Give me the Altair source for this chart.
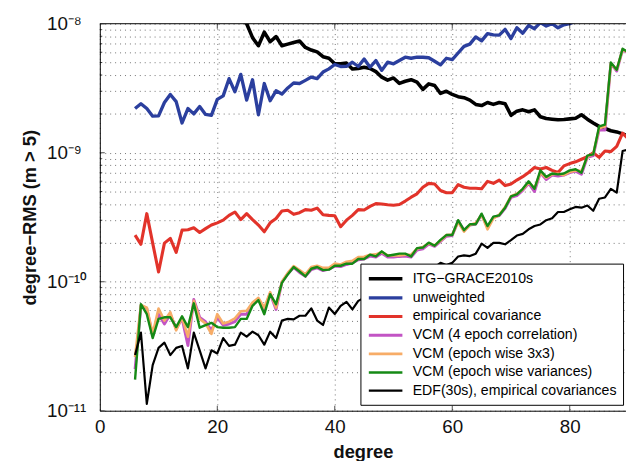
import altair as alt
import pandas as pd

degrees = list(range(6, 91))

itg = [6.0e-8, 5.2e-8, 4.6e-8, 4.1e-8, 3.7e-8, 3.3e-8, 3.0e-8, 2.7e-8, 2.5e-8, 2.3e-8,
       2.1e-8, 1.95e-8, 1.8e-8, 1.65e-8, 1.52e-8, 1.4e-8, 1.3e-8, 1.2e-8, 1.1e-8,
       1.0e-8, 7.8e-9, 6.75e-9, 8.6e-9, 7.25e-9, 7.95e-9, 6.75e-9, 6.95e-9, 7.15e-9, 7.35e-9,
       6.55e-9, 6.25e-9, 6.05e-9, 5.55e-9, 5.4e-9, 4.9e-9, 4.9e-9, 4.95e-9, 4.45e-9, 4.5e-9, 4.6e-9,
       4.5e-9, 4.25e-9, 3.85e-9, 3.65e-9, 3.8e-9, 3.45e-9, 3.58e-9, 3.68e-9, 3.52e-9, 3.1e-9,
       3.42e-9, 3.32e-9, 2.88e-9, 3.0e-9, 2.83e-9, 2.72e-9, 2.67e-9, 2.56e-9, 2.37e-9, 2.32e-9,
       2.45e-9, 2.37e-9,
       2.45e-9, 2.4e-9, 1.95e-9, 2.1e-9, 2.15e-9, 2.08e-9, 2.15e-9, 1.9e-9, 1.84e-9, 1.82e-9,
       1.8e-9, 1.81e-9, 1.83e-9, 1.85e-9, 1.97e-9, 1.82e-9, 1.7e-9, 1.6e-9, 1.54e-9, 1.48e-9,
       1.45e-9, 1.4e-9, 1.35e-9]

unweighted = [2.2e-9, 2.4e-9, 2.2e-9, 1.92e-9, 1.93e-9, 2.45e-9, 2.83e-9, 2.49e-9, 1.7e-9, 2.2e-9,
              2.0e-9, 2.28e-9, 1.98e-9, 1.95e-9, 2.59e-9, 2.76e-9, 3.75e-9,
              2.97e-9, 4.05e-9, 2.56e-9, 3.68e-9, 1.97e-9, 3.44e-9, 2.53e-9, 3.02e-9, 2.85e-9, 3.18e-9,
              3.47e-9, 3.44e-9, 3.64e-9, 3.86e-9, 3.75e-9, 4.22e-9, 4.47e-9, 4.83e-9, 4.66e-9, 4.68e-9,
              5.03e-9, 4.66e-9, 5.33e-9,
              4.6e-9, 5.18e-9, 4.35e-9, 5.03e-9, 4.89e-9, 5.18e-9, 5.5e-9, 5.4e-9, 5.5e-9, 5.5e-9,
              5.45e-9, 5.12e-9, 4.8e-9, 5.4e-9, 5.27e-9, 5.93e-9, 6.67e-9, 6.95e-9, 7.91e-9, 7.37e-9,
              8.38e-9, 8.2e-9,
              8.15e-9, 9.05e-9, 7.68e-9, 9.3e-9, 8.44e-9, 9.7e-9, 9.15e-9, 1.02e-8, 9.6e-9, 1.0e-8,
              9.3e-9, 9.8e-9, 1.0e-8, 1.05e-8, 1.1e-8, 1.08e-8, 1.15e-8, 1.12e-8, 1.2e-8, 1.18e-8,
              1.25e-8, 1.22e-8, 1.3e-8]

emp_cov = [2.3e-10, 1.95e-10, 3.37e-10, 1.99e-10, 1.19e-10, 1.99e-10, 2.17e-10, 1.69e-10, 2.51e-10,
           2.53e-10, 2.62e-10, 2.41e-10, 2.58e-10, 2.75e-10, 2.86e-10, 3.0e-10, 3.27e-10,
           3.47e-10, 3.03e-10, 3.37e-10, 3.03e-10, 2.75e-10, 2.44e-10, 2.86e-10, 3.09e-10, 3.53e-10,
           3.58e-10, 3.33e-10, 3.43e-10, 3.62e-10, 3.58e-10, 3.72e-10, 3.31e-10, 3.27e-10, 3.25e-10,
           2.67e-10, 3.0e-10, 3.27e-10, 3.62e-10, 3.6e-10,
           3.84e-10, 4.03e-10, 4.0e-10, 3.95e-10, 3.92e-10, 3.97e-10, 4.22e-10, 4.52e-10, 4.8e-10,
           5.4e-10, 5.79e-10, 5.72e-10, 5.09e-10, 4.9e-10, 4.9e-10, 5.66e-10, 5.4e-10, 5.3e-10,
           5.3e-10, 5.25e-10, 6.0e-10, 5.79e-10,
           6.14e-10, 5.56e-10, 5.72e-10, 6.14e-10, 6.52e-10, 7.03e-10, 7.68e-10, 7.47e-10, 7.68e-10,
           7.3e-10, 7.03e-10, 7.9e-10, 8.24e-10, 8.5e-10, 8.9e-10, 9.3e-10, 1.0e-9, 9.2e-10,
           1.03e-9, 1.02e-9, 1.12e-9, 1.42e-9, 1.28e-9]

vcm_4epoch = [2.1e-11, 6.5e-11, 6.2e-11, 3.8e-11, 5.6e-11, 4.7e-11, 5.6e-11, 4.3e-11, 5.2e-11, 3.2e-11,
              7.3e-11, 5.3e-11, 4.9e-11, 4.2e-11, 5.3e-11, 4.6e-11, 4.7e-11, 4.9e-11, 5.6e-11, 5.6e-11,
              6.7e-11, 7.3e-11, 6.0e-11, 8.1e-11, 6.1e-11, 9.9e-11, 1.15e-10, 1.29e-10, 1.18e-10,
              1.10e-10, 1.24e-10, 1.28e-10, 1.22e-10, 1.25e-10, 1.32e-10, 1.31e-10, 1.36e-10, 1.40e-10,
              1.48e-10, 1.50e-10, 1.58e-10, 1.55e-10, 1.66e-10, 1.55e-10, 1.55e-10, 1.57e-10, 1.58e-10,
              1.55e-10, 1.76e-10, 1.80e-10, 1.96e-10, 1.88e-10, 2.05e-10, 2.25e-10, 2.28e-10, 2.95e-10,
              2.5e-10, 2.75e-10, 2.8e-10, 3.3e-10, 2.65e-10, 3.15e-10, 3.25e-10, 3.7e-10, 4.5e-10,
              4.65e-10, 5.1e-10, 5.8e-10, 5.0e-10, 7.0e-10, 6.2e-10, 6.7e-10, 6.6e-10, 6.7e-10, 7.0e-10,
              7.2e-10, 6.8e-10, 9.2e-10, 9.5e-10, 1.5e-9, 1.5e-9, 4.9e-9, 4.3e-9, 6.3e-9, 5.9e-9]

vcm_3x3 = [2.6e-11, 6.6e-11, 6.3e-11, 3.95e-11, 6.2e-11, 5.0e-11, 5.8e-11, 4.2e-11, 5.3e-11, 3.75e-11,
           7.1e-11, 5.15e-11, 4.75e-11, 3.95e-11, 5.6e-11, 4.75e-11, 4.9e-11, 5.2e-11, 5.9e-11, 5.95e-11,
           6.9e-11, 7.5e-11, 6.3e-11, 8.3e-11, 6.3e-11, 1.0e-10, 1.17e-10, 1.32e-10, 1.23e-10,
           1.14e-10, 1.30e-10, 1.33e-10, 1.28e-10, 1.28e-10, 1.38e-10, 1.36e-10, 1.43e-10, 1.45e-10,
           1.55e-10, 1.56e-10, 1.62e-10, 1.63e-10, 1.70e-10, 1.60e-10, 1.60e-10, 1.60e-10, 1.62e-10,
           1.62e-10, 1.80e-10, 1.86e-10, 1.98e-10, 1.92e-10, 2.08e-10, 2.30e-10, 2.32e-10, 2.9e-10,
           2.45e-10, 2.75e-10, 2.85e-10, 3.3e-10, 2.55e-10, 3.1e-10, 3.3e-10, 3.8e-10, 4.6e-10,
           4.8e-10, 5.2e-10, 5.9e-10, 5.3e-10, 7.0e-10, 6.4e-10, 6.8e-10, 6.9e-10, 6.7e-10, 7.1e-10,
           7.3e-10, 7.2e-10, 9.3e-10, 9.8e-10, 1.55e-9, 1.6e-9, 4.9e-9, 4.4e-9, 6.3e-9, 6.0e-9]

vcm_var = [1.74e-11, 6.7e-11, 5.6e-11, 3.66e-11, 5.15e-11, 5.3e-11, 5.3e-11, 4.45e-11, 5.4e-11, 4.45e-11,
           6.8e-11, 4.4e-11, 4.6e-11, 4.8e-11, 4.45e-11, 4.4e-11, 4.4e-11, 4.45e-11, 5.15e-11, 5.15e-11,
           6.5e-11, 7.2e-11, 5.6e-11, 8.0e-11, 6.7e-11, 9.8e-11, 1.14e-10, 1.30e-10, 1.20e-10,
           1.10e-10, 1.26e-10, 1.30e-10, 1.23e-10, 1.24e-10, 1.33e-10, 1.33e-10, 1.38e-10, 1.38e-10,
           1.50e-10, 1.50e-10, 1.62e-10, 1.57e-10, 1.72e-10, 1.59e-10, 1.62e-10, 1.65e-10, 1.65e-10,
           1.57e-10, 1.82e-10, 1.84e-10, 2.01e-10, 1.90e-10, 2.11e-10, 2.30e-10, 2.30e-10, 3.0e-10,
           2.51e-10, 2.79e-10, 2.79e-10, 3.37e-10, 2.7e-10, 3.2e-10, 3.27e-10, 3.75e-10, 4.58e-10,
           4.75e-10, 5.25e-10, 6.0e-10, 5.25e-10, 7.3e-10, 6.5e-10, 6.9e-10, 6.8e-10, 6.9e-10, 7.3e-10,
           7.45e-10, 7.0e-10, 9.5e-10, 9.7e-10, 1.6e-9, 1.65e-9, 5.0e-9, 4.4e-9, 6.4e-9, 6.0e-9]

edf = [2.7e-11, 4.03e-11, 1.13e-11, 2.26e-11, 3.07e-11, 3.37e-11, 2.7e-11, 3.07e-11, 3.18e-11, 2.13e-11,
       4.03e-11, 2.94e-11, 2.13e-11, 2.94e-11, 2.78e-11, 3.66e-11, 3.18e-11,
       3.25e-11, 4.03e-11, 3.75e-11, 4.1e-11, 3.85e-11, 3.25e-11, 4.1e-11, 3.66e-11, 5.0e-11, 5.15e-11,
       5.1e-11, 5.45e-11, 5.45e-11, 6.22e-11, 5.0e-11, 4.62e-11, 6.3e-11, 5.62e-11, 6.5e-11, 6.98e-11,
       6.1e-11, 7.1e-11,
       7.5e-11, 8.0e-11, 7.6e-11, 8.5e-11, 9.0e-11, 8.8e-11, 9.6e-11, 1.0e-10, 1.05e-10, 1.1e-10,
       1.15e-10, 1.2e-10,
       1.3e-10, 1.4e-10, 1.35e-10, 1.4e-10, 1.57e-10, 1.6e-10, 1.58e-10, 1.65e-10, 1.97e-10, 1.83e-10,
       2.0e-10, 2.0e-10, 1.95e-10, 2.1e-10, 2.28e-10, 2.35e-10, 2.55e-10, 2.7e-10, 2.78e-10, 3.0e-10,
       3.1e-10, 3.47e-10, 3.47e-10, 3.65e-10, 3.8e-10, 3.75e-10, 3.9e-10, 3.55e-10, 4.4e-10, 4.5e-10,
       5.25e-10, 4.9e-10, 1.03e-9, 1.06e-9]

names = ["ITG\u2212GRACE2010s", "unweighted", "empirical covariance",
         "VCM (4 epoch correlation)", "VCM (epoch wise 3x3)",
         "VCM (epoch wise variances)", "EDF(30s), empirical covariances"]
colors = ["#000000", "#2b3f9e", "#e2332a", "#c254c4", "#f7ac67", "#158a15", "#000000"]
widths = [3.6, 2.2, 2.0, 2.4, 3.0, 2.4, 2.0]
series = [itg, unweighted, emp_cov, vcm_4epoch, vcm_3x3, vcm_var, edf]

x_ticks = [0, 20, 40, 60, 80]
y_decades = [1e-11, 1e-10, 1e-9, 1e-8]
y_minor = [k * 10.0 ** e for e in (-11, -10, -9) for k in range(2, 10)]
y_ticks = sorted(y_decades + y_minor)
y_top = [1e-8]

rows = []
for name, vals in zip(names, series):
    assert len(vals) == len(degrees), (name, len(vals))
    for d, v in zip(degrees, vals):
        rows.append({"degree": d, "value": v, "series": name})
df = pd.DataFrame(rows)

FONT = "Liberation Sans"
label_expr = ("abs(log(datum.value)/LN10 + 8) < 0.01 ? '10\u207b\u2078' : "
              "abs(log(datum.value)/LN10 + 9) < 0.01 ? '10\u207b\u2079' : "
              "abs(log(datum.value)/LN10 + 10) < 0.01 ? '10\u207b\u00b9\u2070' : "
              "abs(log(datum.value)/LN10 + 11) < 0.01 ? '10\u207b\u00b9\u00b9' : ''")

W, H = 533, 392
x_scale = alt.Scale(domain=[0, W / 5.95], nice=False, zero=False)
x_axis = alt.Axis(values=x_ticks, title="degree", grid=True,
                  ticks=False, tickSize=0, labelPadding=7.5, labelFlush=False,
                  labelOverlap=False, labelFontSize=19, labelFont=FONT,
                  labelColor="#111", titleFontSize=18.5, titleFont=FONT,
                  titleFontWeight="bold", titleColor="#111",
                  titleX=266.5, titleY=47, titleBaseline="alphabetic",
                  titleAlign="center", domainColor="black", domainWidth=1,
                  gridColor="#444", gridOpacity=0.75, gridDash=[1, 4], gridWidth=1)
y_scale = alt.Scale(type="log", domain=[1e-11, 1e-8], nice=False)
y_axis = alt.Axis(values=y_ticks, labelExpr=label_expr, title="degree\u2212RMS (m > 5)",
                  grid=True, ticks=False, tickSize=0, labelPadding=54, labelAlign="left",
                  labelBaseline="middle", labelFlush=False, labelOverlap=False,
                  labelFontSize=19, labelFont=FONT, labelColor="#111",
                  titleFontSize=18.5, titleFont=FONT, titleFontWeight="bold", titleColor="#111",
                  titleAngle=270, titleX=-71, titleY=196, titleAlign="center",
                  titleBaseline="middle", domainColor="black", domainWidth=1,
                  gridColor="#444", gridOpacity=0.75, gridDash=[1, 4], gridWidth=1)


def xe():
    return alt.X("degree:Q", scale=x_scale, axis=x_axis)


def ye():
    return alt.Y("value:Q", scale=y_scale, axis=y_axis)


# horizontal line symbol (path units scaled by sqrt(size)/2): 2.5*sqrt(185) ~ 34 px long
legend = alt.Legend(title=None, orient="none", legendX=264, legendY=243,
                    symbolType="M-2.5,0H2.5", symbolSize=185, symbolOffset=10.2,
                    labelFontSize=14.3, labelFont=FONT, labelColor="#000",
                    labelOffset=18.4, labelLimit=400, rowPadding=2.9,
                    padding=6.3, strokeColor="black", fillColor="white")

lines = alt.Chart(df).mark_line(clip=True, strokeJoin="round").encode(
    x=xe(),
    y=ye(),
    color=alt.Color("series:N", scale=alt.Scale(domain=names, range=colors), legend=legend),
    strokeWidth=alt.StrokeWidth("series:N", scale=alt.Scale(domain=names, range=widths),
                                legend=legend),
)

# inward tick marks (half of each tick is clipped away by the plot frame)
xt = [t for t in x_ticks if t > 0]
xtick_df = pd.DataFrame({"degree": xt * 2, "value": [1e-11] * len(xt) + [1e-8] * len(xt)})
xticks = alt.Chart(xtick_df).mark_tick(orient="vertical", size=10, thickness=1,
                                       color="black", clip=True).encode(x=xe(), y=ye())
ymaj_df = pd.DataFrame({"degree": [0] * len(y_decades), "value": y_decades})
ymin_df = pd.DataFrame({"degree": [0] * len(y_minor), "value": y_minor})
ymaj = alt.Chart(ymaj_df).mark_tick(orient="horizontal", size=10, thickness=1,
                                    color="black", clip=True).encode(x=xe(), y=ye())
ymin = alt.Chart(ymin_df).mark_tick(orient="horizontal", size=5, thickness=1,
                                    color="black", clip=True).encode(x=xe(), y=ye())

top = alt.Chart(pd.DataFrame({"value": y_top})).mark_rule(color="black", strokeWidth=1).encode(
    y=ye()
)

chart = alt.layer(lines, xticks, ymaj, ymin, top).properties(
    width=W, height=H,
    autosize=alt.AutoSizeParams(type="none"),
    padding={"left": 93, "top": 13, "right": 0, "bottom": 48},
    background="white",
).configure_view(strokeWidth=0)

chart.save("out.html", embed_options={"renderer": "svg", "actions": False})
